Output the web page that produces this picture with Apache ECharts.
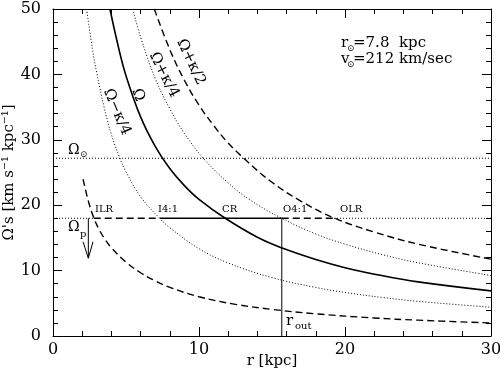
<!DOCTYPE html>
<html>
<head>
<meta charset="utf-8">
<script src="https://cdn.jsdelivr.net/npm/echarts@6/dist/echarts.min.js"></script>
<style>
  html, body { margin: 0; padding: 0; background: #fff; }
  #chart { width: 500px; height: 376px; }
</style>
</head>
<body>
<div id="chart"></div>
<script>
// [r (kpc), frequency (km s^-1 kpc^-1)]
const omega = [[3.9, 50], [4.5, 44.0], [5, 39.8], [6, 33.5], [7, 29.0], [8, 25.6], [9, 23.0], [10, 20.9], [11.8, 18.0], [14, 15.1], [15.7, 13.45], [18, 11.7], [20, 10.45], [22.6, 9.2], [25, 8.28], [30, 6.9]]
const omegaPlusK4 = [[5.46, 50], [6, 45.7], [7, 39.4], [8, 34.75], [9, 30.98], [10.3, 27.18], [12, 23.4], [13.5, 20.8], [15.67, 18], [18, 15.6], [20, 14.05], [22.6, 12.42], [25, 11.2], [30, 9.25]]
const omegaPlusK2 = [[6.94, 50], [8, 43.8], [9, 39.1], [10, 35.3], [11, 32.2], [12, 29.5], [13.2, 26.9], [15, 23.5], [17, 20.6], [19.25, 18.05], [22, 15.9], [25, 14.05], [30, 11.75]]
const omegaMinusK4 = [[2.3, 50], [2.7, 43.9], [3, 40.2], [3.5, 35.0], [4, 30.8], [4.56, 27.3], [5, 25.1], [6, 21.3], [7.33, 17.94], [8, 16.56], [10, 13.35], [12, 11.17], [15, 8.93], [18, 7.42], [20, 6.66], [22.6, 5.88], [25, 5.3], [30, 4.4]]
const omegaMinusK2 = [[2.06, 24.0], [2.4, 20.8], [2.79, 18.1], [3.2, 16.1], [3.6, 14.67], [4, 13.5], [5, 11.3], [6, 9.67], [7, 8.43], [8, 7.44], [10, 6.0], [12.5, 4.84], [15, 4.07], [18, 3.39], [22, 2.76], [25, 2.42], [30, 2.0]]

const omegaSun = 27.18
const omegaP = 18
// resonance radii along the pattern speed line: ILR, I4:1, CR, O4:1, OLR
const resonances = [2.79, 7.33, 11.8, 15.67, 19.25]
const rOut = 15.67
const arrowShaft = [[2.42, 18], [2.42, 11.9]]
const arrowHead = [[2.06, 14.4], [2.42, 11.9], [2.74, 14.4]]

const xTicks = [0, 10, 20, 30]
const yTicks = [0, 10, 20, 30, 40, 50]

const FONT = '"DejaVu Serif", "Liberation Serif", serif'
const dotted = [1, 2]
const dashed = [7, 4]

function line(data, type, width, smooth) {
  return {
    type: 'line',
    data: data,
    symbol: 'none',
    smooth: smooth || false,
    silent: true,
    clip: true,
    lineStyle: { color: '#000', width: width, type: type }
  }
}
function seg(x0, x1, y, type, width) {
  return line([[x0, y], [x1, y]], type, width, false)
}

const chart = echarts.init(document.getElementById('chart'))

const axisCommon = {
  min: 0,
  interval: 10,
  axisLine: { show: true, onZero: false, lineStyle: { color: '#000', width: 1 } },
  axisTick: { show: true, inside: true, length: 9, lineStyle: { color: '#000' } },
  minorTick: { show: true, splitNumber: 5, length: 5, lineStyle: { color: '#000' } },
  splitLine: { show: false }
}

const series = [
  line(omega, 'solid', 1.6, 0.4),
  line(omegaPlusK4, dotted, 1, 0.4),
  line(omegaMinusK4, dotted, 1, 0.4),
  line(omegaPlusK2, dashed, 1.4, 0.4),
  line(omegaMinusK2, dashed, 1.4, 0.4),
  seg(0, 30, omegaSun, dotted, 1),
  seg(0, resonances[0], omegaP, dotted, 1),
  seg(resonances[0], resonances[1], omegaP, dashed, 1.4),
  seg(resonances[1], resonances[3], omegaP, 'solid', 1.4),
  seg(resonances[3], resonances[4], omegaP, dashed, 1.4),
  seg(resonances[4], 30, omegaP, dotted, 1),
  line([[rOut, 0], [rOut, omegaP]], 'solid', 1),
  line(arrowShaft, 'solid', 1),
  line(arrowHead, 'solid', 1)
]

function txt(x, y, text, size, rot, align) {
  return {
    type: 'text',
    x: x, y: y,
    rotation: rot ? -rot * Math.PI / 180 : 0,
    silent: true,
    style: {
      text: text,
      fontSize: size,
      fontFamily: FONT,
      fill: '#000',
      align: align || 'left',
      verticalAlign: 'middle',
      textAlign: align || 'left',
      textVerticalAlign: 'middle'
    }
  }
}

chart.setOption({
  animation: false,
  backgroundColor: '#fff',
  grid: { left: 53, right: 9, top: 9, bottom: 40, containLabel: false, outerBoundsMode: 'none' },
  xAxis: [
    Object.assign({}, axisCommon, {
      type: 'value', max: 30, position: 'bottom',
      name: 'r [kpc]', nameLocation: 'middle', nameGap: 18, nameMoveOverlap: false,
      nameTextStyle: { fontFamily: FONT, fontSize: 15, color: '#000' },
      axisLabel: {
        margin: 6, fontFamily: FONT, fontSize: 16, color: '#000',
        formatter: v => xTicks.indexOf(v) >= 0 ? String(v) : ''
      }
    }),
    Object.assign({}, axisCommon, {
      type: 'value', max: 30, position: 'top', axisLabel: { show: false }
    })
  ],
  yAxis: [
    Object.assign({}, axisCommon, {
      type: 'value', max: 50, position: 'left',
      name: 'Ω\'s [km s⁻¹ kpc⁻¹]', nameLocation: 'middle', nameGap: 36, nameMoveOverlap: false,
      nameTextStyle: { fontFamily: FONT, fontSize: 15, color: '#000' },
      axisLabel: {
        margin: 12, fontFamily: FONT, fontSize: 16, color: '#000',
        formatter: v => yTicks.indexOf(v) >= 0 ? String(v) : ''
      }
    }),
    Object.assign({}, axisCommon, {
      type: 'value', max: 50, position: 'right', axisLabel: { show: false }
    })
  ],
  series: series,
  graphic: [
    // curve labels
    txt(191, 62, 'Ω+κ/2', 15, 65, 'center'),
    txt(164, 75, 'Ω+κ/4', 15, 63, 'center'),
    txt(138, 95, 'Ω', 15, 70, 'center'),
    txt(117, 112, 'Ω−κ/4', 15, 67, 'center'),
    // Omega sun and pattern speed
    txt(68, 150, 'Ω', 14),
    txt(80, 155, '⊙', 9),
    txt(68, 227, 'Ω', 14),
    txt(80, 234, 'p', 10),
    // resonance labels
    txt(95, 209, 'ILR', 10),
    txt(158, 209, 'I4:1', 10),
    txt(222, 209, 'CR', 10),
    txt(283, 209, 'O4:1', 10),
    txt(340, 209, 'OLR', 10),
    // r_out
    txt(286, 321, 'r', 15),
    txt(295, 326, 'out', 10),
    // parameters
    txt(341, 43, 'r', 15),
    txt(347, 49, '⊙', 9),
    txt(353, 43, '=7.8  kpc', 15),
    txt(341, 59, 'v', 15),
    txt(347, 65, '⊙', 9),
    txt(353, 59, '=212 km/sec', 15)
  ]
})
</script>
</body>
</html>
